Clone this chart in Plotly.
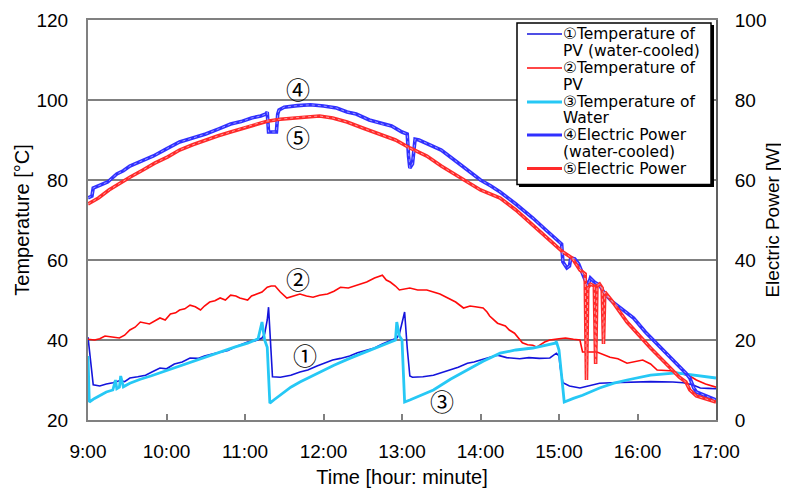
import plotly.graph_objects as go

def hrs(lst):
    out = []
    for s in lst:
        h, m = s.split(":")
        out.append(int(h) + int(m) / 60.0)
    return out

# ① Temperature of PV (water-cooled)
t1 = ["9:00","9:04","9:09","9:14","9:19","9:24","9:28","9:32","9:38","9:44","9:50","9:55","10:00","10:06","10:12","10:18","10:24","10:29","10:35","10:41","10:47","10:52","10:57","11:02","11:08","11:13","11:15","11:17","11:18","11:19","11:20","11:21","11:27","11:35","11:42","11:48","11:55","12:01","12:07","12:13","12:20","12:26","12:33","12:39","12:45","12:51","12:56","12:58","13:00","13:02","13:04","13:06","13:08","13:16","13:24","13:30","13:37","13:43","13:50","13:55","14:00","14:06","14:13","14:20","14:30","14:37","14:45","14:53","14:58","15:00","15:01","15:03","15:08","15:16","15:24","15:31","15:40","15:57","16:10","16:27","16:35","16:42","16:48","16:54","17:00"]
v1 = [40.7,28.8,28.5,29.0,29.3,29.8,29.6,30.5,30.8,31.2,32.2,33.0,32.8,34.0,34.5,35.5,35.4,36.0,36.5,37.0,37.4,38.2,38.8,39.5,39.8,40.5,41.5,45.0,48.2,43.0,36.0,30.8,30.7,31.2,32.0,32.5,33.5,34.2,35.0,35.4,36.0,36.8,37.5,38.0,39.0,39.8,40.5,41.5,44.0,47.0,38.0,31.0,30.7,30.8,31.2,31.8,32.5,33.2,34.2,34.5,35.0,35.6,36.2,35.6,35.3,35.6,35.4,35.5,36.7,36.0,33.0,29.3,28.5,28.0,28.6,29.2,29.3,29.5,29.6,29.5,29.3,28.8,28.0,27.9,27.8]

# ② Temperature of PV
t2 = ["9:00","9:05","9:09","9:13","9:17","9:24","9:28","9:32","9:36","9:40","9:47","9:51","9:55","9:59","10:03","10:07","10:10","10:14","10:18","10:22","10:26","10:29","10:33","10:37","10:41","10:45","10:49","10:53","10:56","11:02","11:05","11:09","11:13","11:17","11:20","11:23","11:27","11:32","11:37","11:42","11:47","11:52","11:57","12:03","12:08","12:13","12:19","12:24","12:29","12:33","12:36","12:39","12:45","12:48","12:51","12:55","12:58","13:02","13:06","13:12","13:19","13:24","13:29","13:35","13:41","13:47","13:52","13:56","14:02","14:05","14:07","14:13","14:19","14:22","14:26","14:32","14:36","14:40","14:43","14:49","14:53","15:00","15:05","15:11","15:16","15:18","15:29","15:39","15:45","15:52","15:58","16:04","16:10","16:15","16:25","16:32","16:40","16:45","16:52","17:00"]
v2 = [40.2,40.0,40.3,41.0,40.8,40.5,41.2,42.5,43.2,44.5,44.0,44.8,45.5,45.0,46.5,46.8,47.5,47.8,48.7,48.3,47.5,48.5,49.5,49.8,50.5,50.0,51.2,51.0,50.5,50.0,51.0,51.5,52.0,53.2,53.5,53.5,52.0,50.5,51.0,51.5,51.0,50.7,51.2,51.5,52.2,53.2,53.0,53.5,54.0,54.5,55.0,55.5,56.2,55.0,54.5,53.5,52.5,52.8,53.0,52.5,52.5,52.0,51.5,50.5,49.5,48.0,48.5,48.3,48.0,47.0,46.0,44.2,43.5,42.5,41.7,39.3,38.8,38.7,38.2,39.5,40.0,40.3,40.5,40.2,40.0,37.0,37.0,35.7,35.3,34.2,34.6,35.0,34.0,32.5,32.3,31.7,31.0,30.0,29.0,28.2]

# ③ Temperature of Water
t3 = ["9:00","9:01","9:05","9:09","9:14","9:19","9:21","9:22","9:24","9:25","9:27","9:32","9:40","9:48","9:55","10:05","10:18","10:30","10:41","10:52","11:02","11:10","11:13","11:15","11:17","11:19","11:22","11:29","11:35","11:42","11:55","12:08","12:20","12:33","12:45","12:55","12:56","12:58","13:00","13:02","13:06","13:15","13:24","13:37","13:50","14:02","14:15","14:27","14:40","14:52","14:57","14:58","15:00","15:02","15:04","15:11","15:18","15:31","15:42","15:52","16:10","16:30","16:42","17:00"]
v3 = [36.0,24.5,25.4,26.2,27.0,27.5,30.0,27.8,28.2,31.0,28.3,29.2,30.2,31.0,31.8,33.0,34.5,35.8,37.0,38.2,39.2,40.3,44.5,40.0,38.2,24.2,25.0,26.7,28.2,29.5,31.7,33.7,35.4,37.1,38.7,40.0,44.5,41.0,40.0,24.5,25.0,26.3,27.5,30.2,32.5,34.7,36.7,37.5,38.0,38.8,39.2,39.6,37.5,31.0,24.5,25.4,26.2,28.0,29.2,30.0,31.2,31.8,31.3,30.5]

# ④ Electric Power (water-cooled)
t4 = ["9:00","9:03","9:04","9:10","9:15","9:22","9:27","9:32","9:40","9:50","10:00","10:10","10:20","10:30","10:40","10:49","10:57","11:05","11:12","11:16","11:17","11:18","11:24","11:25","11:26","11:30","11:40","11:50","12:00","12:10","12:18","12:25","12:35","12:45","12:52","13:00","13:04","13:05","13:06","13:08","13:09","13:10","13:13","13:16","13:20","13:30","13:40","13:50","14:00","14:08","14:15","14:27","14:40","14:50","15:00","15:02","15:03","15:06","15:08","15:09","15:12","15:15","15:20","15:22","15:24","15:27","15:31","15:35","15:41","15:49","15:57","16:06","16:15","16:26","16:37","16:40","16:43","16:45","16:52","17:00"]
v4 = [55.5,56.0,58.0,58.8,59.5,61.5,62.3,63.5,64.6,66.0,67.8,69.5,70.5,71.5,72.8,74.0,74.6,75.5,76.0,76.5,77.0,72.0,72.0,76.5,77.5,78.2,78.6,78.8,78.5,78.0,77.0,76.5,75.0,74.0,73.5,72.0,71.5,66.0,63.0,64.0,68.0,70.2,70.0,69.6,69.0,67.5,65.0,62.5,60.0,58.5,57.0,54.0,50.5,47.5,44.5,44.0,39.5,38.0,38.5,40.5,40.3,39.0,35.0,33.5,35.5,34.5,33.7,31.5,29.5,27.5,25.5,22.0,19.0,15.5,11.7,10.5,8.0,7.0,6.0,5.0]

# ⑤ Electric Power
t5 = ["9:00","9:08","9:16","9:24","9:32","9:42","9:51","10:01","10:10","10:20","10:30","10:39","10:49","10:59","11:08","11:17","11:27","11:42","11:57","12:07","12:18","12:30","12:43","12:55","13:06","13:12","13:19","13:30","13:40","13:50","14:00","14:15","14:27","14:40","14:50","15:03","15:10","15:16","15:20","15:21","15:22","15:24","15:27","15:28","15:29","15:31","15:33","15:34","15:35","15:40","15:52","16:10","16:32","16:37","16:40","16:45","17:00"]
v5 = [54.0,55.5,57.5,59.2,60.7,62.5,64.2,65.8,67.5,68.8,70.0,71.0,72.0,73.0,74.0,74.7,75.2,75.7,76.0,75.5,74.5,73.0,71.5,70.0,68.0,67.0,66.0,63.5,61.5,59.5,57.5,55.5,52.5,48.7,45.8,42.0,40.5,37.5,36.5,10.0,33.0,34.0,33.5,14.0,33.5,34.0,33.0,19.0,32.0,30.0,24.5,18.0,10.7,9.5,7.5,6.0,4.5]

names = ["①Temperature of PV (water-cooled)", "②Temperature of PV",
         "③Temperature of Water", "④Electric Power (water-cooled)", "⑤Electric Power"]
legend_lines = ["①Temperature of", "PV (water-cooled)", "②Temperature of", "PV",
                "③Temperature of", "Water", "④Electric Power", "(water-cooled)",
                "⑤Electric Power"]

x_ticks = [9, 10, 11, 12, 13, 14, 15, 16, 17]
x_labels = ["9:00", "10:00", "11:00", "12:00", "13:00", "14:00", "15:00", "16:00", "17:00"]

FONT = "Liberation Sans, Noto Sans CJK JP"
LFONT = "DejaVu Sans, Noto Sans CJK JP"
BLUE = "#1414DC"
RED = "#FF0A0A"
CYAN = "#26C8F5"
PBLUE = "#3030FF"
PRED = "#FF2A2A"

series = [
    (t1, v1, "y", dict(color=BLUE, width=1.6)),
    (t2, v2, "y", dict(color=RED, width=1.6)),
    (t3, v3, "y", dict(color=CYAN, width=2.8)),
    (t4, v4, "y2", dict(color=PBLUE, width=3.6)),
    (t5, v5, "y2", dict(color=PRED, width=3.6)),
]

fig = go.Figure()
for i, (tt, vv, ax, ln) in enumerate(series):
    fig.add_trace(go.Scatter(x=hrs(tt), y=vv, name=names[i], mode="lines",
                             yaxis=ax, line=ln, showlegend=False))
# light dotted texture on the power lines
for tt, vv, col in [(t4, v4, "#9a9aff"), (t5, v5, "#ff9a9a")]:
    fig.add_trace(go.Scatter(x=hrs(tt), y=vv, mode="lines", yaxis="y2",
                             line=dict(color=col, width=1, dash="dot"),
                             showlegend=False, hoverinfo="skip"))

ann = [("①", 11.77, 36.5), ("②", 11.68, 55.3), ("③", 13.51, 25.0),
       ("④", 11.68, 103.0), ("⑤", 11.68, 90.8)]
for txt, ax_, ay_ in ann:
    fig.add_annotation(x=ax_, y=ay_, text=txt, showarrow=False,
                       font=dict(family="Noto Sans CJK JP", size=24, color="black"))

# ---- custom legend box (paper coordinates of the plot area) ----
W, H, L, T = 628.0, 400.0, 88.0, 20.0
def px(x):
    return (x - L) / W
def py(y):
    return 1 - (y - T) / H

shapes = []
shapes.append(dict(type="rect", xref="paper", yref="paper", layer="above",
                   x0=px(519), x1=px(714), y0=py(187), y1=py(25),
                   fillcolor="black", line=dict(width=0)))
shapes.append(dict(type="rect", xref="paper", yref="paper", layer="above",
                   x0=px(517), x1=px(711), y0=py(184.5), y1=py(23),
                   fillcolor="white", line=dict(color="black", width=1.5)))
row_y = [34, 51, 68, 85, 102, 118.5, 135, 152, 168.5]
swatch = [dict(color=BLUE, width=1.6), dict(color=RED, width=1.6),
          dict(color=CYAN, width=2.8), dict(color=PBLUE, width=3.2),
          dict(color=PRED, width=3.2)]
for k in range(5):
    yy = py(row_y[2 * k])
    shapes.append(dict(type="line", xref="paper", yref="paper", layer="above",
                       x0=px(527), x1=px(562), y0=yy, y1=yy, line=swatch[k]))
for k, txt in enumerate(legend_lines):
    fig.add_annotation(xref="paper", yref="paper", x=px(561), y=py(row_y[k]),
                       xanchor="left", yanchor="middle", text=txt, showarrow=False,
                       font=dict(family=LFONT, size=15.5, color="black"))

# the page adds an 8px body margin, so the figure is 8px smaller than the window
fig.update_layout(
    width=781, height=480,
    margin=dict(l=80, r=73, t=12, b=68),
    paper_bgcolor="white", plot_bgcolor="white",
    font=dict(family=FONT, size=19, color="black"),
    showlegend=False,
    shapes=shapes,
    xaxis=dict(range=[9, 17], tickvals=x_ticks, ticktext=x_labels, automargin=False,
               ticks="inside", ticklen=6, tickcolor="#808080", tickwidth=1.5,
               showline=True, linecolor="#808080", linewidth=2, mirror=True,
               showgrid=False, zeroline=False, ticklabelstandoff=13,
               title=dict(text="Time [hour: minute]", standoff=12,
                          font=dict(size=20))),
    yaxis=dict(range=[20, 120], dtick=20, showline=True, linecolor="#808080",
               linewidth=2, showgrid=True, gridcolor="#808080", gridwidth=1.5,
               zeroline=False, ticks="", ticklabelstandoff=14, automargin=False,
               title=dict(text="Temperature [°C]", standoff=1,
                          font=dict(size=20))),
    yaxis2=dict(range=[0, 100], dtick=20, overlaying="y", side="right",
                showline=True, linecolor="#606060", linewidth=2, showgrid=False,
                zeroline=False, ticks="", ticklabelstandoff=13, automargin=False,
                title=dict(text="Electric Power [W]", standoff=0,
                           font=dict(size=19))),
)

fig.write_html("out.html")
